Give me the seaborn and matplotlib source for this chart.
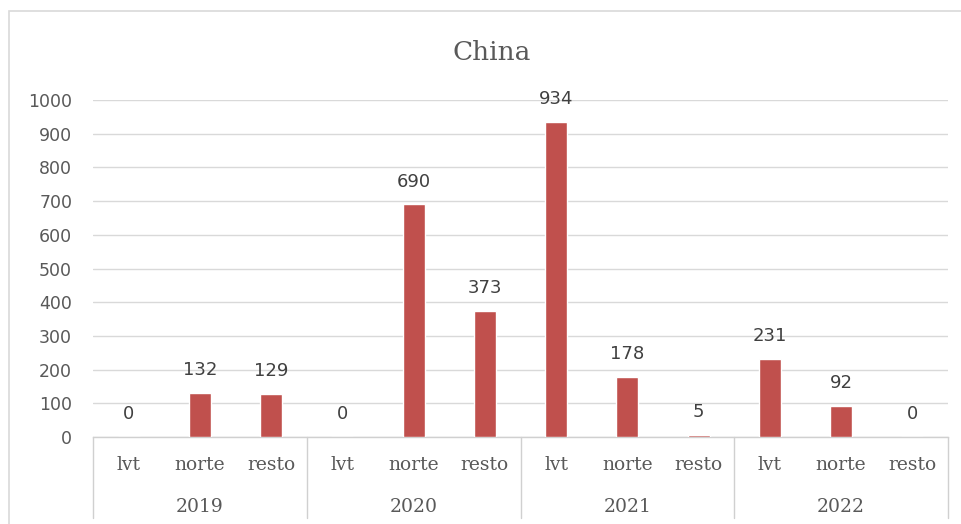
import matplotlib
matplotlib.use("Agg")
import matplotlib.pyplot as plt
import seaborn as sns
import pandas as pd
from matplotlib.patches import Rectangle
from matplotlib.lines import Line2D

years = ["2019", "2020", "2021", "2022"]
regions = ["lvt", "norte", "resto"]
values = [0, 132, 129,
          0, 690, 373,
          934, 178, 5,
          231, 92, 0]
yticks = [0, 100, 200, 300, 400, 500, 600, 700, 800, 900, 1000]

keys = [f"{y} {r}" for y in years for r in regions]
df = pd.DataFrame({"key": keys, "value": values})

sns.set_theme(style="white")
plt.rcParams["font.family"] = ["DejaVu Sans"]

W, H = 962, 524
fig = plt.figure(figsize=(W / 100, H / 100), dpi=100)
left, right, top, bottom = 93, 948, 100, 437
ax = fig.add_axes([left / W, 1 - bottom / H, (right - left) / W, (bottom - top) / H])

bar_color = "#C0504D"
sns.barplot(data=df, x="key", y="value", color=bar_color, width=0.31,
            saturation=1, ax=ax, zorder=3)

ax.set_ylim(0, 1000)
ax.set_xlim(-0.5, len(keys) - 0.5)
ax.set_yticks(yticks)
ax.set_yticklabels([str(t) for t in yticks], fontsize=12.5, color="#595959")
ax.tick_params(axis="y", length=0, pad=15)
ax.tick_params(axis="x", length=0)
ax.set_xticks([])
ax.set_xlabel("")
ax.set_ylabel("")
ax.grid(axis="y", color="#D9D9D9", linewidth=1, zorder=0)
ax.set_axisbelow(True)
for s in ["left", "right", "top"]:
    ax.spines[s].set_visible(False)
ax.spines["bottom"].set_color("#D0D0D0")
ax.spines["bottom"].set_linewidth(1)

# value labels
for i, v in enumerate(values):
    ax.annotate(str(v), (i, v), xytext=(0, 10), textcoords="offset points",
                ha="center", va="bottom", fontsize=13, color="#404040",
                zorder=4)

# two-level category axis
trans = ax.get_xaxis_transform()
px = 1 / (bottom - top)
row1_y = -(465 - bottom) * px
row2_y = -(507 - bottom) * px
line_bottom = -(518 - bottom) * px
serif = ["DejaVu Serif"]
for i, k in enumerate(keys):
    ax.text(i, row1_y, regions[i % 3], transform=trans, ha="center", va="center",
            fontsize=13.5, color="#595959", family=serif)
for j, y in enumerate(years):
    ax.text(3 * j + 1, row2_y, y, transform=trans, ha="center", va="center",
            fontsize=13.5, color="#595959", family=serif)
for b in range(len(years) + 1):
    xb = 3 * b - 0.5
    ax.add_line(Line2D([xb, xb], [0, line_bottom], transform=trans,
                       color="#D0D0D0", linewidth=1, clip_on=False))

# title
fig.text(492 / W, 1 - 52 / H, "China", ha="center", va="center",
         fontsize=19, color="#595959", family=serif)

# chart area border
fig.patches.append(Rectangle((9 / W, -0.1), 1.2, 1 - 11 / H + 0.1,
                             transform=fig.transFigure, fill=False,
                             edgecolor="#D9D9D9", linewidth=1.2))

fig.savefig("out.png", dpi=100)
